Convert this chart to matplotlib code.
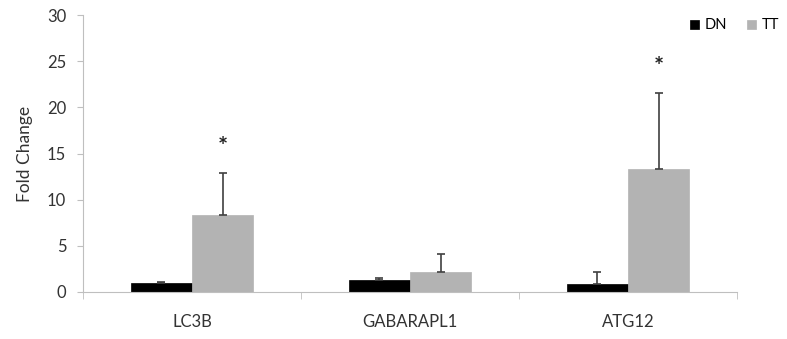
import matplotlib
matplotlib.use("Agg")
import matplotlib.pyplot as plt
import numpy as np

categories = ["LC3B", "GABARAPL1", "ATG12"]
dn_values = [0.95, 1.3, 0.9]
dn_errors = [0.15, 0.25, 1.3]
tt_values = [8.37, 2.2, 13.3]
tt_errors = [4.5, 1.95, 8.25]
significant = [True, False, True]

plt.rcParams['font.family'] = ['Lato', 'DejaVu Sans']

fig = plt.figure(figsize=(7.87, 3.39), dpi=100)
ax = fig.add_axes([83/787, 1-292/339, (737-83)/787, (292-15)/339])

x = np.arange(len(categories))
w = 0.28
gray_axis = "#bfbfbf"
ax.bar(x - w/2, dn_values, w, color="#000000", edgecolor="#000000", linewidth=0.5, label="DN", zorder=2)
ax.bar(x + w/2, tt_values, w, color="#b3b3b3", edgecolor="#b3b3b3", linewidth=0.5, label="TT", zorder=2)
ax.errorbar(x - w/2, dn_values, yerr=[np.zeros(3), dn_errors], fmt="none", ecolor="#404040",
            elinewidth=1.2, capsize=3, capthick=1.2, zorder=3)
ax.errorbar(x + w/2, tt_values, yerr=[np.zeros(3), tt_errors], fmt="none", ecolor="#404040",
            elinewidth=1.2, capsize=3, capthick=1.2, zorder=3)

for i, s in enumerate(significant):
    if s:
        ax.text(x[i] + w/2, tt_values[i] + tt_errors[i] + 2.8, "*", ha="center", va="center",
                fontsize=17, fontweight="bold", color="#222222")

ax.set_xlim(-0.5, len(categories) - 0.5)
ax.set_ylim(0, 30)
ax.set_yticks(range(0, 31, 5))
ax.set_xticks(x)
ax.set_xticklabels(categories, fontsize=12, color="#333333")
ax.set_xticks(np.arange(len(categories) + 1) - 0.5, minor=True)
ax.tick_params(axis="x", which="major", length=0, pad=16)
ax.tick_params(axis="x", which="minor", length=5, color=gray_axis, direction="out")
ax.tick_params(axis="y", length=4, color=gray_axis, labelsize=12, labelcolor="#333333", pad=8)

for sp in ["top", "right"]:
    ax.spines[sp].set_visible(False)
ax.spines["left"].set_color(gray_axis)
ax.spines["bottom"].set_color(gray_axis)

ax.set_ylabel("Fold Change", fontsize=12.5, color="#333333", labelpad=10)

leg = ax.legend(loc="upper right", bbox_to_anchor=(1.085, 1.035), ncol=2, frameon=False,
                fontsize=10.5, handlelength=0.6, handleheight=0.6, handletextpad=0.4,
                columnspacing=1.4)

fig.savefig("out.png", dpi=100)
